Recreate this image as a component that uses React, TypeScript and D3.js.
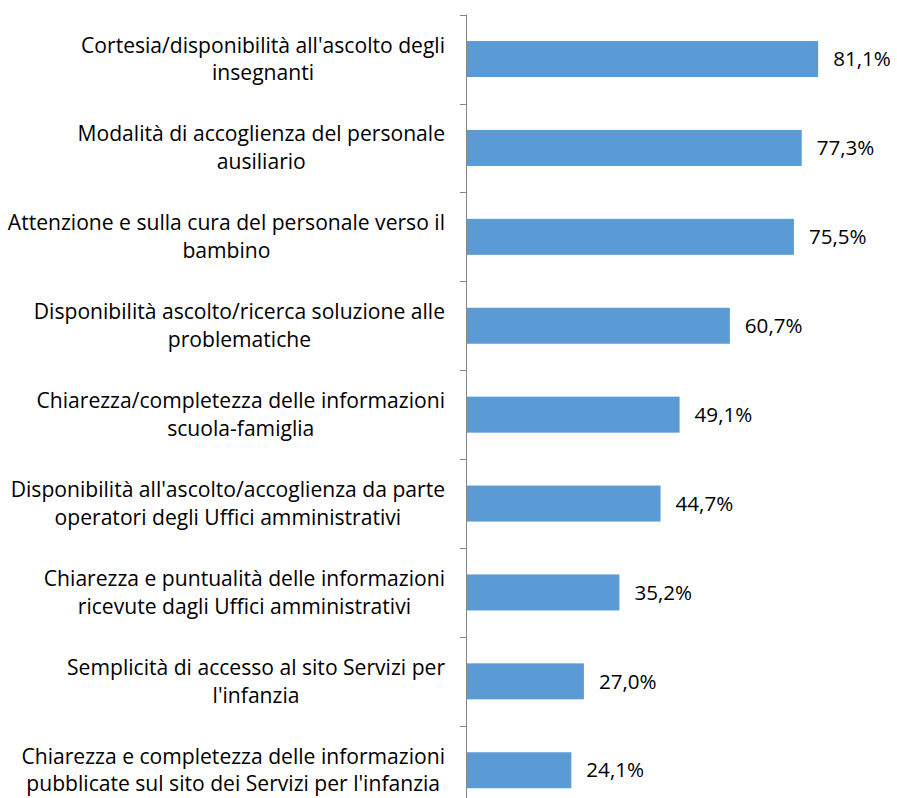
import React, { useEffect, useRef } from 'react';
import * as d3 from 'd3';

// categories, each already split in the two lines shown in the chart
const categories: string[][] = [
  ["Cortesia/disponibilità all'ascolto degli", 'insegnanti'],
  ['Modalità di accoglienza del personale', 'ausiliario'],
  ['Attenzione e sulla cura del personale verso il', 'bambino'],
  ['Disponibilità ascolto/ricerca soluzione alle', 'problematiche'],
  ['Chiarezza/completezza delle informazioni', 'scuola-famiglia'],
  ["Disponibilità all'ascolto/accoglienza da parte", 'operatori degli Uffici amministrativi'],
  ['Chiarezza e puntualità delle informazioni', 'ricevute dagli Uffici amministrativi'],
  ['Semplicità di accesso al sito Servizi per', "l'infanzia"],
  ['Chiarezza e completezza delle informazioni', "pubblicate sul sito dei Servizi per l'infanzia"],
];

const values: number[] = [81.1, 77.3, 75.5, 60.7, 49.1, 44.7, 35.2, 27.0, 24.1];

const WIDTH = 897;
const HEIGHT = 798;
const FONT = '"Open Sans", "Noto Sans", sans-serif';
const LABEL_SIZE = 21.1;
const VALUE_SIZE = 20.6;

const fmt = (v: number) => v.toFixed(1).replace('.', ',') + '%';

const App = () => {
  const ref = useRef<SVGSVGElement>(null);

  useEffect(() => {
    const svg = d3.select(ref.current);
    svg.selectAll('*').remove();

    const keys = categories.map((_, i) => String(i));

    const x = d3.scaleLinear().domain([0, 100]).range([467, 900]);

    // outer padding = half the inner one so each slot is a full step
    const y = d3.scaleBand()
      .domain(keys)
      .range([14.6, 814.7])
      .paddingInner(0.595)
      .paddingOuter(0.2975);

    const step = y.step();

    // bars
    svg.append('g')
      .selectAll('rect')
      .data(values)
      .enter().append('rect')
      .attr('x', x(0))
      .attr('y', (d, i) => y(keys[i]))
      .attr('width', d => x(d) - x(0))
      .attr('height', y.bandwidth())
      .attr('fill', '#5b9bd5');

    // axis line + ticks at category boundaries
    const axis = svg.append('g').attr('stroke', '#868686').attr('stroke-width', 1);
    axis.append('line')
      .attr('x1', x(0) - 0.5).attr('x2', x(0) - 0.5)
      .attr('y1', y.range()[0]).attr('y2', y.range()[1]);
    axis.selectAll('line.tick')
      .data(d3.range(keys.length + 1))
      .enter().append('line')
      .attr('class', 'tick')
      .attr('x1', x(0) - 7).attr('x2', x(0) - 0.5)
      .attr('y1', i => Math.round(y.range()[0] + i * step) + 0.5)
      .attr('y2', i => Math.round(y.range()[0] + i * step) + 0.5);

    // value labels
    svg.append('g')
      .selectAll('text')
      .data(values)
      .enter().append('text')
      .attr('x', d => x(d) + 15)
      .attr('y', (d, i) => y(keys[i]) + y.bandwidth() / 2)
      .attr('dy', '0.35em')
      .style('font-family', FONT)
      .style('font-size', VALUE_SIZE + 'px')
      .attr('fill', '#000')
      .text(d => fmt(d));

    // category labels: lines centered inside a block whose right edge is at 445
    const lineGap = 27.7;
    categories.forEach((lines, i) => {
      const cy = y(keys[i]) + y.bandwidth() / 2;
      const g = svg.append('g');
      const texts = g.selectAll('text')
        .data(lines)
        .enter().append('text')
        .attr('x', 0)
        .attr('y', (d, j) => cy + (j - (lines.length - 1) / 2) * lineGap)
        .attr('dy', '0.35em')
        .attr('text-anchor', 'middle')
        .style('font-family', FONT)
        .style('font-size', LABEL_SIZE + 'px')
        .attr('fill', '#000')
        .text(d => d);
      let maxW = 0;
      texts.each(function () {
        maxW = Math.max(maxW, (this as SVGTextElement).getComputedTextLength());
      });
      g.attr('transform', `translate(${445 - maxW / 2},0)`);
    });
  }, []);

  return (
    <div style={{ position: 'absolute', left: 0, top: 0 }}>
      <svg ref={ref} width={WIDTH} height={HEIGHT} style={{ display: 'block', background: '#fff' }} />
    </div>
  );
};

export default App;
